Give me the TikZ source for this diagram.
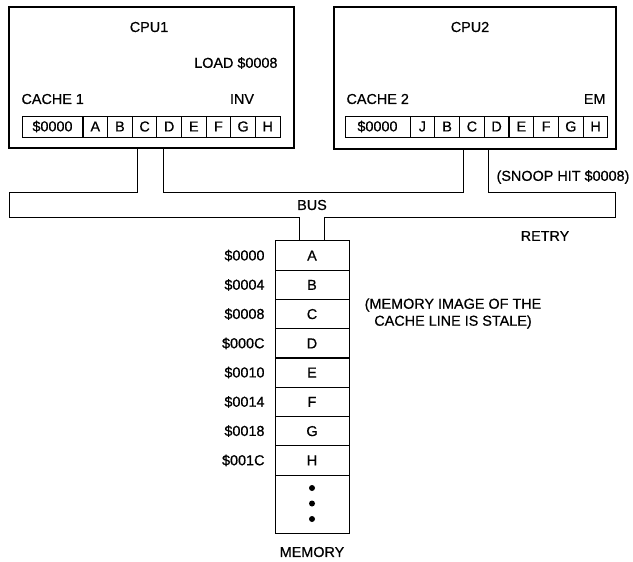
\documentclass[tikz,border=0pt]{standalone}
\usepackage{fontspec}
\setmainfont{Liberation Sans}
\newfontfamily\scanfont{Liberation Sans}[FakeBold=0.6]

\begin{document}
\begin{tikzpicture}[x=1pt,y=-1pt,line width=1pt,
  font=\scanfont\fontsize{14.4}{17}\selectfont,
  cpubox/.style={draw,line width=1.8pt,inner sep=0pt},
  tagcell/.style={draw,inner sep=0pt,minimum height=21pt},
  linecell/.style={draw,inner sep=0pt,minimum height=21pt,minimum width=24.7pt},
  memcell/.style={draw,inner sep=0pt,minimum width=74pt,minimum height=29.25pt},
  txt/.style={inner sep=0pt}]
\useasboundingbox (0,0) rectangle (633,562);
% processors
\node[cpubox,minimum width=285pt,minimum height=141pt] (cpu1) at (151.5,77.5) {};
\node[cpubox,minimum width=282pt,minimum height=142pt] (cpu2) at (475,78) {};
\node[txt] (cpu1name) at (149,27) {CPU1};
\node[txt] (cpu2name) at (470,27) {CPU2};
\node[txt,anchor=east] (load) at (278,63) {LOAD \$0008};
\node[txt,anchor=west] (cache1name) at (21,99) {CACHE 1};
\node[txt] (inv) at (242,99) {INV};
\node[txt,anchor=west] (cache2name) at (346,99) {CACHE 2};
\node[txt,anchor=east] (em) at (606,99) {EM};
% cache 1
\node[tagcell,minimum width=61pt] (k1tag) at (52.5,126.5) {\$0000};
\node[linecell] (k1a) at (95.3,126.5) {A};
\node[linecell] (k1b) at (119.9,126.5) {B};
\node[linecell] (k1c) at (144.6,126.5) {C};
\node[linecell] (k1d) at (169.2,126.5) {D};
\node[linecell] (k1e) at (193.8,126.5) {E};
\node[linecell] (k1f) at (218.4,126.5) {F};
\node[linecell] (k1g) at (243.1,126.5) {G};
\node[linecell] (k1h) at (267.7,126.5) {H};
% cache 2
\node[tagcell,minimum width=65pt] (k2tag) at (377.5,126.5) {\$0000};
\node[linecell] (k2a) at (422.4,126.5) {J};
\node[linecell] (k2b) at (447.1,126.5) {B};
\node[linecell] (k2c) at (471.9,126.5) {C};
\node[linecell] (k2d) at (496.6,126.5) {D};
\node[linecell] (k2e) at (521.4,126.5) {E};
\node[linecell] (k2f) at (546.1,126.5) {F};
\node[linecell] (k2g) at (570.9,126.5) {G};
\node[linecell] (k2h) at (595.6,126.5) {H};
% memory
\node[memcell] (mA) at (312,255.6) {A};
\node[memcell] (mB) at (312,284.9) {B};
\node[memcell] (mC) at (312,314.1) {C};
\node[memcell] (mD) at (312,343.4) {D};
\node[memcell] (mE) at (312,372.6) {E};
\node[memcell] (mF) at (312,401.9) {F};
\node[memcell] (mG) at (312,431.1) {G};
\node[memcell] (mH) at (312,460.4) {H};
\node[memcell,minimum height=58pt] (mrest) at (312,504) {};
\fill (312,488) circle (3pt) (312,503.5) circle (3pt) (312,519) circle (3pt);
\node[txt,anchor=east] (adA) at (265,255.6) {\$0000};
\node[txt,anchor=east] (adB) at (265,284.9) {\$0004};
\node[txt,anchor=east] (adC) at (265,314.1) {\$0008};
\node[txt,anchor=east] (adD) at (265,343.4) {\$000C};
\node[txt,anchor=east] (adE) at (265,372.6) {\$0010};
\node[txt,anchor=east] (adF) at (265,401.9) {\$0014};
\node[txt,anchor=east] (adG) at (265,431.1) {\$0018};
\node[txt,anchor=east] (adH) at (265,460.4) {\$001C};
\node[txt] (memname) at (312,552) {MEMORY};
% bus
\coordinate (busNW) at (9,192);
\coordinate (busSW) at (9,217);
\coordinate (busNE) at (615,192);
\coordinate (busSE) at (615,217);
\coordinate (c1l) at ([xshift=-14.5pt]cpu1.south);
\coordinate (c1r) at ([xshift=11.5pt]cpu1.south);
\coordinate (c2l) at ([xshift=-12pt]cpu2.south);
\coordinate (c2r) at ([xshift=13pt]cpu2.south);
\coordinate (ml) at ([xshift=-13pt]mA.north);
\coordinate (mr) at ([xshift=12pt]mA.north);
\draw (c1l) |- (busNW) -- (busSW) -| (ml);
\draw (c1r) -- (c1r |- busNW) -- (c2l |- busNW) -- (c2l);
\draw (c2r) |- (busNE) -- (busSE) -| (mr);
\node[txt] (busname) at (312,205) {BUS};
\node[txt] (snoop) at (563,177) {(SNOOP HIT \$0008)};
\node[txt] (retry) at (545,236) {RETRY};
\node[txt,align=center] (stale) at (453,313.5) {(MEMORY IMAGE OF THE\\CACHE LINE IS STALE)};
\end{tikzpicture}
\end{document}
